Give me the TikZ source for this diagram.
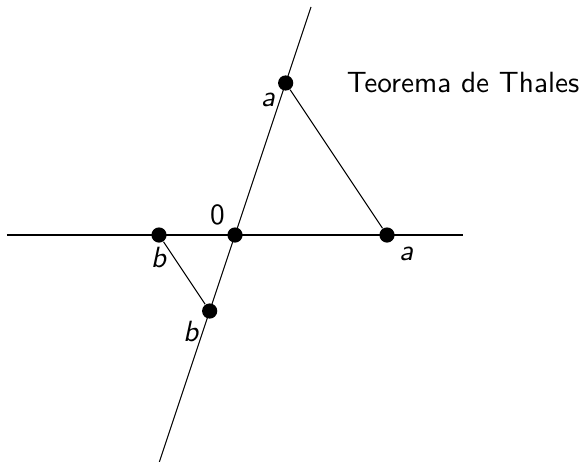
\documentclass[11pt,tikz,border=0pt]{standalone}
\renewcommand{\familydefault}{\sfdefault}
\begin{document}
\begin{tikzpicture}[scale=1,
  point/.style={circle,fill=black,inner sep=0pt,minimum size=2mm},
  every label/.append style={inner sep=1.5pt}]
\useasboundingbox (-3.092,-2.974) rectangle (4.539,3.092);

% Droites
\coordinate (gauche) at (-3,0);
\coordinate (droite) at (3,0);
\coordinate (bas) at (-1,-3);
\coordinate (haut) at (1,3);
\draw (gauche) -- (droite);
\draw (bas) -- (haut);

% Points
\node[point,label=above left:0] (O) at (0,0) {};
\node[point,label=below left:\textit{a}] (A1) at (2/3,2) {};
\node[point,label={[label distance=1pt]below right:\textit{a}}] (A2) at (2,0) {};
\node[point,label=below:\textit{b}] (B1) at (-1,0) {};
\node[point,label=below left:\textit{b}] (B2) at (-1/3,-1) {};

% Segments
\draw (A1) -- (A2);
\draw (B1) -- (B2);

% Titre
\node (titre) at (3,2) {Teorema de Thales};

\end{tikzpicture}
\end{document}
